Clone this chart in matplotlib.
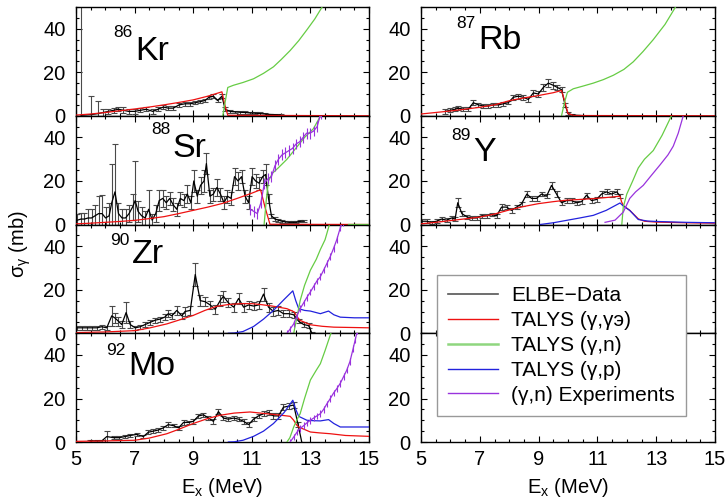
import numpy as np
import matplotlib
matplotlib.use("Agg")
import matplotlib.pyplot as plt
from matplotlib.lines import Line2D
from matplotlib.ticker import MultipleLocator, FixedLocator

plt.rcParams['font.family'] = ['Liberation Sans', 'DejaVu Sans']
plt.rcParams['mathtext.fontset'] = 'custom'
plt.rcParams['mathtext.rm'] = 'Liberation Sans'
plt.rcParams['mathtext.it'] = 'Liberation Sans:italic'
plt.rcParams['mathtext.bf'] = 'Liberation Sans:bold'

# ---------------- 86Kr ----------------
kr_elbe_e = [5.17, 5.50, 5.76, 5.93, 6.10, 6.28, 6.45, 6.62, 6.80, 7.00, 7.20, 7.40, 7.62, 7.80,
             7.98, 8.15, 8.32, 8.52, 8.72, 8.90, 9.07, 9.24, 9.40, 9.54, 9.69, 9.83, 9.98, 10.09,
             10.26, 10.43, 10.60, 10.77, 10.94, 11.11, 11.28, 11.45, 11.62, 11.80, 11.98]
kr_elbe_y = [0.2, 0.5, 1.0, 1.5, 2.0, 2.5, 3.0, 2.5, 2.0, 2.0, 2.5, 3.0, 2.0, 3.0, 4.0, 3.5, 3.5,
             5.0, 5.5, 5.5, 6.0, 6.5, 7.0, 8.5, 9.0, 7.0, 9.0, 3.0, 2.0, 1.8, 1.6, 1.5, 1.3, 1.2,
             1.0, 0.8, 0.6, 0.5, 0.4]
kr_elbe_err = [60, 8.8, 6.0, 1.5, 1.2, 1.2, 1.0, 1.3, 1.2, 1.0, 1.0, 1.0, 1.2, 1.0, 1.0, 1.0, 0.8,
               0.8, 0.8, 0.8, 0.8, 0.8, 0.8, 0.8, 1.0, 0.8, 0.8, 0.8, 0.6, 0.6, 0.6, 0.5, 0.5,
               0.5, 0.5, 0.4, 0.4, 0.4, 0.4]
kr_gg_e = [5.0, 5.5, 6.0, 6.5, 7.0, 7.5, 8.0, 8.5, 9.0, 9.5, 9.98, 10.08, 10.18, 15.0]
kr_gg_y = [0.3, 0.8, 1.5, 2.3, 3.1, 4.0, 5.0, 6.1, 7.3, 9.0, 11.0, 5.0, 0.2, 0.0]
kr_gn_e = [10.01, 10.1, 10.18, 10.37, 10.7, 11.06, 11.4, 11.74, 12.0, 12.31, 12.6, 12.88, 13.15, 13.4, 13.5]
kr_gn_y = [0.0, 7.0, 13.0, 14.0, 15.3, 17.0, 19.5, 22.5, 25.8, 30.0, 34.5, 39.5, 44.5, 50.0, 52.0]

# ---------------- 87Rb ----------------
rb_elbe_e = [5.82, 5.99, 6.16, 6.27, 6.44, 6.61, 6.78, 6.95, 7.12, 7.29, 7.46, 7.63, 7.80, 7.97,
             8.14, 8.31, 8.48, 8.65, 8.82, 8.99, 9.16, 9.33, 9.50, 9.64, 9.78, 9.90, 10.00,
             10.15, 10.30, 10.45]
rb_elbe_y = [2.0, 2.5, 3.0, 3.5, 3.0, 3.0, 6.0, 5.0, 4.5, 4.5, 5.0, 5.0, 5.5, 6.0, 8.5, 9.0, 8.5,
             7.5, 10.5, 10.0, 13.0, 15.0, 14.0, 13.0, 12.0, 5.0, 1.0, 0.4, 0.2, 0.1]
rb_elbe_err = [1.0, 1.0, 1.0, 1.0, 0.8, 0.8, 1.2, 1.0, 0.8, 0.8, 0.8, 0.8, 0.8, 0.8, 1.2, 1.2,
               1.2, 1.0, 1.5, 1.2, 1.5, 1.8, 1.5, 1.2, 1.2, 0.8, 0.5, 0.3, 0.2, 0.2]
rb_gg_e = [5.0, 5.5, 6.0, 6.5, 7.0, 7.5, 8.03, 8.5, 9.0, 9.5, 9.78, 9.88, 10.0, 10.2, 15.0]
rb_gg_y = [0.8, 1.5, 2.2, 3.0, 3.9, 5.0, 7.0, 8.2, 9.3, 10.6, 11.6, 7.0, 1.0, 0.1, 0.0]
rb_gn_e = [9.78, 9.88, 9.98, 10.18, 10.5, 10.86, 11.2, 11.54, 11.9, 12.22, 12.55, 12.9, 13.3, 13.64, 13.7]
rb_gn_y = [0.0, 6.0, 10.8, 12.4, 13.6, 15.0, 16.6, 18.6, 21.3, 24.8, 29.5, 35.0, 42.0, 49.6, 51.0]

# ---------------- 88Sr ----------------
sr_elbe_e = [5.05, 5.17, 5.29, 5.41, 5.53, 5.65, 5.77, 5.89, 6.01, 6.13, 6.22, 6.33, 6.45, 6.57,
             6.69, 6.81, 6.93, 7.02, 7.12, 7.24, 7.36, 7.48, 7.60, 7.72, 7.84, 7.96, 8.08, 8.20,
             8.32, 8.44, 8.56, 8.68, 8.80, 8.92, 9.02, 9.14, 9.25, 9.37, 9.45, 9.57, 9.69, 9.81,
             9.93, 10.05, 10.17, 10.29, 10.41, 10.53, 10.65, 10.77, 10.89, 11.01, 11.13, 11.25,
             11.37, 11.47, 11.57, 11.67, 11.79, 11.91, 12.03, 12.15, 12.27, 12.39, 12.51, 12.65, 12.77]
sr_elbe_y = [2.0, 2.5, 2.5, 3.0, 3.0, 4.0, 5.0, 5.0, 3.0, 4.0, 10.0, 15.0, 5.0, 3.0, 3.0, 5.0,
             8.0, 11.0, 6.0, 4.0, 3.0, 7.0, 2.0, 5.0, 11.0, 12.0, 10.0, 12.0, 9.0, 7.0, 12.0,
             11.0, 14.0, 10.0, 20.0, 13.0, 18.0, 20.0, 28.0, 13.0, 14.0, 17.0, 14.0, 10.0, 13.0,
             12.0, 22.0, 20.0, 22.0, 13.0, 10.0, 22.0, 20.0, 19.0, 22.0, 23.0, 12.0, 4.0, 2.5,
             2.0, 1.5, 1.2, 1.0, 1.0, 1.0, 1.5, 1.5]
sr_elbe_err = [3, 3, 3, 4, 4, 5, 8, 8.5, 5, 6, 18, 22, 5, 4, 4, 4, 6, 18, 5, 4, 3, 9, 3, 4, 5, 4,
               3, 3, 3, 3, 3, 3, 4, 3, 5, 3, 4, 5, 5, 3, 3, 4, 3, 3, 3, 3, 4, 4, 3, 3, 3, 4, 3,
               3, 3, 5, 2, 1, 0.8, 0.7, 0.6, 0.5, 0.5, 0.5, 0.5, 0.5, 0.5]
sr_gg_e = [5.0, 5.5, 6.0, 6.5, 7.0, 7.5, 8.0, 8.5, 9.0, 9.5, 10.0, 10.5, 11.0, 11.3, 11.45, 11.62, 15.0]
sr_gg_y = [0.3, 0.6, 1.0, 1.4, 1.9, 2.7, 3.6, 5.0, 6.5, 8.0, 9.7, 12.0, 14.4, 16.0, 8.0, 0.1, 0.0]
sr_gn_e = [11.42, 11.50, 11.57, 11.70, 11.90, 12.20, 12.50, 12.80, 13.10, 13.35, 13.45, np.nan, 14.3, 15.0]
sr_gn_y = [0.0, 12.0, 20.0, 23.5, 26.0, 30.0, 35.0, 40.0, 44.0, 50.0, 52.0, np.nan, 0.0, 0.0]
sr_exp_e = [10.95, 11.07, 11.19, 11.31, 11.43, 11.55, 11.67, 11.79, 11.91, 12.03, 12.15, 12.27,
            12.39, 12.51, 12.63, 12.75, 12.87, 12.99, 13.11, 13.23, 13.35]
sr_exp_y = [7, 6, 5, 10, 19, 21, 22, 27, 30, 32, 33, 34, 35, 37, 38, 40, 42, 42, 43, 45, 51]
sr_exp_err = [2.5] * 21

# ---------------- 89Y ----------------
y_elbe_e = [5.02, 5.19, 5.36, 5.53, 5.70, 5.87, 6.04, 6.16, 6.25, 6.39, 6.56, 6.72, 6.89, 7.06,
            7.23, 7.40, 7.57, 7.74, 7.91, 8.08, 8.25, 8.42, 8.60, 8.76, 8.93, 9.10, 9.27, 9.44,
            9.61, 9.78, 9.95, 10.12, 10.29, 10.46, 10.63, 10.80, 10.97, 11.14, 11.31, 11.48,
            11.66, 11.77]
y_elbe_y = [1.5, 1.5, 1.0, 1.5, 2.5, 2.0, 3.0, 2.5, 10.0, 5.0, 3.5, 3.0, 3.0, 4.0, 4.0, 4.5,
            4.0, 8.0, 8.0, 6.5, 8.0, 9.5, 14.0, 12.0, 12.0, 14.0, 13.0, 18.0, 14.0, 10.0, 11.0,
            11.0, 10.0, 10.5, 13.5, 11.0, 11.5, 14.0, 15.0, 14.0, 15.0, 13.0]
y_elbe_err = [0.8, 0.8, 0.8, 0.8, 0.8, 0.8, 0.8, 0.8, 2.0, 1.0, 0.8, 0.8, 0.8, 0.8, 0.8, 0.8,
              0.8, 1.2, 1.0, 1.0, 1.0, 1.0, 1.2, 1.0, 1.0, 1.0, 1.0, 1.5, 1.2, 1.0, 1.0, 1.0,
              1.0, 1.0, 1.2, 1.0, 1.0, 1.2, 1.2, 1.2, 1.2, 1.0]
y_gg_e = [5.0, 5.5, 6.0, 6.5, 7.0, 7.5, 8.03, 8.5, 9.0, 9.5, 9.95, 10.4, 10.86, 11.3, 11.77,
          11.82, 11.88, 12.0, 12.1, 12.25, 12.39, 12.6, 13.0, 14.0, 15.0]
y_gg_y = [0.3, 1.0, 1.8, 2.6, 3.4, 4.8, 6.8, 8.3, 9.6, 10.5, 11.2, 11.5, 11.9, 12.4, 13.0, 10.5,
          8.8, 7.5, 6.5, 4.5, 2.6, 1.5, 1.1, 0.8, 0.6]
y_gp_e = [9.05, 9.5, 9.95, 10.4, 10.86, 11.3, 11.77, 11.88, 12.1, 12.39, 12.7, 13.0, 14.0, 15.0]
y_gp_y = [0.0, 0.8, 1.9, 3.0, 4.2, 6.5, 9.9, 8.5, 6.5, 2.3, 1.6, 1.4, 1.0, 0.8]
y_gn_e = [11.83, 11.88, 12.0, 12.2, 12.39, 12.6, 12.9, 13.2, 13.52, 13.6]
y_gn_y = [0.0, 8.0, 14.0, 20.0, 26.0, 30.0, 34.0, 41.0, 50.0, 52.0]
y_exp_e = [11.26, 11.6, 11.88, 12.1, 12.3, 12.56, 12.8, 13.13, 13.4, 13.58, 13.75, 13.92, 14.0]
y_exp_y = [1.0, 2.0, 5.7, 12.0, 15.0, 18.0, 22.0, 27.4, 32.0, 36.0, 42.0, 50.0, 52.0]

# ---------------- 90Zr ----------------
zr_elbe_e = [5.05, 5.20, 5.36, 5.54, 5.71, 5.88, 6.05, 6.22, 6.33, 6.45, 6.56, 6.71, 6.85, 7.02,
             7.19, 7.36, 7.53, 7.70, 7.87, 8.04, 8.15, 8.27, 8.44, 8.61, 8.72, 8.90, 9.07, 9.24,
             9.41, 9.58, 9.75, 9.92, 10.03, 10.20, 10.38, 10.55, 10.72, 10.89, 11.06, 11.23,
             11.40, 11.57, 11.74, 11.91, 12.08, 12.26, 12.43, 12.60, 12.77, 12.94, 13.05]
zr_elbe_y = [2.5, 2.5, 2.5, 2.5, 2.5, 3.0, 2.5, 8.0, 7.0, 5.5, 4.0, 9.5, 4.0, 2.5, 3.0, 4.0, 5.0,
             6.0, 6.5, 7.5, 9.0, 8.0, 10.5, 8.0, 10.0, 10.5, 27.0, 15.0, 14.5, 13.0, 11.0, 15.0,
             17.0, 14.0, 12.0, 16.0, 12.0, 13.0, 12.5, 13.0, 18.0, 12.0, 10.0, 10.5, 9.0, 9.0,
             8.5, 5.5, 4.0, 3.5, 0.0]
zr_elbe_err = [1.0, 1.0, 1.0, 1.0, 1.0, 1.0, 1.0, 4.5, 2.5, 2.0, 1.5, 5.0, 1.5, 1.0, 1.0, 1.0,
               1.0, 1.2, 1.2, 1.5, 1.5, 1.5, 2.0, 1.5, 2.0, 2.0, 5.5, 2.5, 2.0, 2.0, 2.0, 2.5,
               2.5, 2.0, 2.0, 2.5, 2.0, 2.0, 2.0, 2.0, 3.0, 2.0, 2.0, 2.0, 1.5, 1.5, 1.5, 1.0,
               1.0, 1.0, 0.5]
zr_gg_e = [5.0, 6.0, 7.0, 7.5, 8.1, 8.5, 9.0, 9.4, 9.8, 10.2, 10.6, 11.0, 11.3, 11.7, 12.2,
           12.45, 12.55, 12.65, 13.0, 13.4, 13.8, 15.0]
zr_gg_y = [0.3, 0.6, 1.2, 2.4, 4.3, 6.0, 8.2, 10.5, 12.4, 13.2, 13.6, 13.6, 13.2, 12.5, 11.3,
           9.8, 7.5, 5.9, 3.9, 3.2, 2.8, 2.5]
zr_gp_e = [10.2, 10.4, 10.7, 11.06, 11.4, 11.74, 12.1, 12.4, 12.5, 12.6, 12.8, 13.0, 13.34,
           13.62, 13.8, 14.02, 14.5, 15.0]
zr_gp_y = [0.0, 0.1, 0.8, 3.1, 6.5, 10.5, 15.5, 19.5, 15.0, 11.3, 10.5, 10.2, 9.0, 10.2, 8.5,
           7.4, 7.1, 7.1]
zr_gn_e = [12.43, 12.55, 12.65, 12.8, 13.0, 13.2, 13.34, 13.5, 13.65, 13.7]
zr_gn_y = [0.0, 8.0, 15.0, 22.0, 29.0, 34.0, 38.5, 43.0, 50.0, 52.0]
zr_exp_e = [12.2, 12.31, 12.43, 12.54, 12.65, 12.77, 12.88, 13.0, 13.11, 13.22, 13.34, 13.45,
            13.56, 13.68, 13.79, 13.9, 14.02, 14.1]
zr_exp_y = [0.0, 2.0, 4.3, 8.0, 11.3, 14.0, 16.5, 19.0, 21.5, 24.0, 26.0, 29.0, 32.0, 35.3,
            39.0, 43.0, 48.5, 51.0]
zr_exp_err = [1.5] * 18

# ---------------- 92Mo ----------------
mo_elbe_e = [5.48, 5.70, 5.88, 6.05, 6.28, 6.48, 6.67, 6.85, 7.07, 7.30, 7.47, 7.64, 7.81, 7.98,
             8.15, 8.33, 8.50, 8.67, 8.84, 9.01, 9.18, 9.35, 9.52, 9.69, 9.86, 10.03, 10.20,
             10.38, 10.55, 10.72, 10.89, 11.06, 11.23, 11.40, 11.57, 11.74, 11.91, 12.08, 12.26,
             12.43, 12.58, 12.72]
mo_elbe_y = [0.5, 0.5, 0.5, 2.5, 2.0, 2.0, 2.5, 3.0, 3.5, 2.5, 4.5, 5.0, 5.5, 6.5, 8.0, 7.5, 6.5,
             9.0, 9.0, 9.5, 12.0, 12.5, 11.0, 9.5, 14.0, 11.0, 10.5, 11.0, 10.5, 9.5, 8.0, 10.5,
             12.0, 13.0, 13.5, 12.0, 12.0, 16.0, 16.5, 17.0, 8.0, -1.0]
mo_elbe_err = [0.5, 0.5, 0.5, 2.5, 0.8, 0.8, 0.8, 0.8, 0.8, 0.8, 0.8, 0.8, 0.8, 0.8, 1.0, 0.8,
               0.8, 1.0, 0.8, 1.0, 1.0, 1.0, 1.0, 1.0, 1.2, 1.0, 1.0, 1.0, 1.0, 1.0, 1.0, 1.0,
               1.0, 1.2, 1.2, 1.2, 1.2, 1.5, 1.5, 1.5, 1.0, 0.5]
mo_gg_e = [5.0, 6.0, 7.0, 7.5, 8.1, 8.5, 9.0, 9.5, 9.92, 10.4, 10.94, 11.5, 12.0, 12.31, 12.43,
           12.52, 12.6, 13.0, 13.3, 13.68, 14.2, 15.0]
mo_gg_y = [0.3, 0.5, 0.8, 1.8, 3.8, 5.8, 8.5, 10.8, 12.3, 13.3, 13.8, 13.0, 12.3, 11.8, 10.0,
           8.0, 6.9, 4.6, 4.2, 3.8, 3.0, 2.6]
mo_gp_e = [10.2, 10.4, 10.7, 11.06, 11.4, 11.74, 12.1, 12.4, 12.5, 12.6, 12.88, 13.1, 13.34,
           13.62, 13.8, 14.02, 15.0]
mo_gp_y = [0.0, 0.1, 0.8, 2.6, 5.0, 8.5, 13.5, 19.2, 15.0, 11.8, 10.0, 9.8, 9.7, 10.3, 8.5,
           6.9, 6.9]
mo_gn_e = [12.2, 12.3, 12.43, 12.55, 12.65, 12.8, 13.0, 13.2, 13.34, 13.5, 13.7, 13.75]
mo_gn_y = [0.0, 2.0, 6.9, 10.5, 13.0, 20.0, 28.5, 33.0, 36.0, 42.0, 50.0, 52.0]
mo_exp_e = [12.31, 12.43, 12.54, 12.65, 12.77, 12.88, 13.0, 13.11, 13.22, 13.34, 13.45, 13.56,
            13.68, 13.79, 13.9, 14.02, 14.13, 14.24, 14.35, 14.46, 14.53, 14.6]
mo_exp_y = [0.0, 2.3, 4.5, 6.2, 7.5, 8.8, 10.0, 11.0, 12.0, 13.0, 15.0, 17.5, 20.0, 22.5, 24.5,
            27.0, 30.0, 33.0, 37.0, 43.0, 47.0, 51.0]
mo_exp_err = [1.5] * 22

legend_labels = ["ELBE\u2212Data", "TALYS (\u03b3,\u03b3\u044d)", "TALYS (\u03b3,n)",
                 "TALYS (\u03b3,p)", "(\u03b3,n) Experiments"]

C_ELBE = 'black'
C_ELBE_ERR = '#4a4a4a'
C_GG = '#ee1111'
C_GN = '#66cc44'
C_GP = '#2222dd'
C_EXP = '#9933dd'

W, H = 728, 501
fig = plt.figure(figsize=(W / 100, H / 100), dpi=100)

col_left = [76, 421]
col_width = [293, 294]
row_top = 7.0
row_h = 108.75


def make_axes(col, row):
    x0 = col_left[col] / W
    w = col_width[col] / W
    top = row_top + row * row_h
    y0 = (H - (top + row_h)) / H
    ax = fig.add_axes([x0, y0, w, row_h / H])
    ax.set_xlim(5, 15)
    ax.set_ylim(0, 50)
    ax.xaxis.set_major_locator(FixedLocator([5, 7, 9, 11, 13, 15]))
    ax.xaxis.set_minor_locator(MultipleLocator(0.5))
    ax.yaxis.set_major_locator(FixedLocator([0, 20, 40]))
    ax.yaxis.set_minor_locator(MultipleLocator(5))
    ax.tick_params(which='both', direction='in', top=True, right=True, width=0.8,
                   labelsize=14.5, colors='black')
    ax.tick_params(which='major', length=4)
    ax.tick_params(which='minor', length=2.3)
    ax.tick_params(axis='y', pad=7.5)
    ax.tick_params(axis='x', pad=6.0)
    if row != 3:
        ax.tick_params(axis='x', labelbottom=False)
    for s in ax.spines.values():
        s.set_linewidth(1.0)
    return ax


def draw_elbe(ax, e, y, err):
    ax.errorbar(e, y, yerr=err, fmt='none', ecolor=C_ELBE_ERR, elinewidth=0.8,
                capsize=2.2, capthick=0.8, zorder=2)
    ax.plot(e, y, color=C_ELBE, lw=0.9, zorder=3)


def draw_curve(ax, e, y, color, lw=0.9, z=4):
    ax.plot(e, y, color=color, lw=lw, zorder=z)


def draw_exp(ax, e, y, err=None):
    ax.plot(e, y, color=C_EXP, lw=0.9, zorder=5)
    if err is not None:
        ax.errorbar(e, y, yerr=err, fmt='none', ecolor=C_EXP, elinewidth=0.8, capsize=0, zorder=5)


def nucleus_label(ax, mass, sym, x, y_base, y_sup):
    ax.text(x, y_base, sym, fontsize=24.5, ha='left', va='baseline', zorder=6)
    ax.text(x - 0.07, y_sup, mass, fontsize=12.5, ha='right', va='baseline', zorder=6)


# 86Kr
ax = make_axes(0, 0)
draw_elbe(ax, kr_elbe_e, kr_elbe_y, kr_elbe_err)
draw_curve(ax, kr_gg_e, kr_gg_y, C_GG)
draw_curve(ax, kr_gn_e, kr_gn_y, C_GN)
nucleus_label(ax, '86', 'Kr', 7.01, 25.7, 36.2)

# 87Rb
ax = make_axes(1, 0)
draw_elbe(ax, rb_elbe_e, rb_elbe_y, rb_elbe_err)
draw_curve(ax, rb_gg_e, rb_gg_y, C_GG)
draw_curve(ax, rb_gn_e, rb_gn_y, C_GN)
nucleus_label(ax, '87', 'Rb', 6.94, 30.7, 40.4)

# 88Sr
ax = make_axes(0, 1)
draw_elbe(ax, sr_elbe_e, sr_elbe_y, sr_elbe_err)
draw_curve(ax, sr_gg_e, sr_gg_y, C_GG)
draw_curve(ax, sr_gn_e, sr_gn_y, C_GN)
draw_exp(ax, sr_exp_e, sr_exp_y, sr_exp_err)
nucleus_label(ax, '88', 'Sr', 8.28, 31.2, 41.7)

# 89Y
ax = make_axes(1, 1)
draw_elbe(ax, y_elbe_e, y_elbe_y, y_elbe_err)
draw_curve(ax, y_gg_e, y_gg_y, C_GG)
draw_curve(ax, y_gp_e, y_gp_y, C_GP)
draw_curve(ax, y_gn_e, y_gn_y, C_GN)
draw_exp(ax, y_exp_e, y_exp_y)
nucleus_label(ax, '89', 'Y', 6.77, 29.4, 39.0)

# 90Zr
ax = make_axes(0, 2)
draw_elbe(ax, zr_elbe_e, zr_elbe_y, zr_elbe_err)
draw_curve(ax, zr_gg_e, zr_gg_y, C_GG)
draw_curve(ax, zr_gp_e, zr_gp_y, C_GP)
draw_curve(ax, zr_gn_e, zr_gn_y, C_GN)
draw_exp(ax, zr_exp_e, zr_exp_y, zr_exp_err)
nucleus_label(ax, '90', 'Zr', 6.91, 32.1, 40.4)

# empty right panel
make_axes(1, 2)

# 92Mo
ax = make_axes(0, 3)
draw_elbe(ax, mo_elbe_e, mo_elbe_y, mo_elbe_err)
draw_curve(ax, mo_gg_e, mo_gg_y, C_GG)
draw_curve(ax, mo_gp_e, mo_gp_y, C_GP)
draw_curve(ax, mo_gn_e, mo_gn_y, C_GN)
draw_exp(ax, mo_exp_e, mo_exp_y, mo_exp_err)
nucleus_label(ax, '92', 'Mo', 6.77, 30.7, 39.9)

# empty right panel
make_axes(1, 3)

# axis titles
fig.text(20 / W, 1 - 244 / H, r'$\mathregular{\sigma_\gamma}$ (mb)', rotation=90,
         ha='center', va='center', fontsize=14.5)
for cx in (222.5 / W, 568 / W):
    fig.text(cx, 1 - 493 / H, r'E$\mathregular{_x}$ (MeV)', ha='center', va='baseline',
             fontsize=14.5)

# legend
handles = [Line2D([], [], color='#555555', lw=1.2),
           Line2D([], [], color=C_GG, lw=1.0),
           Line2D([], [], color='#8fd67f', lw=1.8),
           Line2D([], [], color=C_GP, lw=1.0),
           Line2D([], [], color=C_EXP, lw=1.0)]
leg = fig.legend(handles, legend_labels, loc='upper left',
                 bbox_to_anchor=(437 / W, 1 - 275 / H), bbox_transform=fig.transFigure,
                 borderaxespad=0, frameon=True, fancybox=False, framealpha=1,
                 edgecolor='#999999', fontsize=15, handlelength=2.4, handletextpad=0.6,
                 labelspacing=0.28, borderpad=0.55)
leg.get_frame().set_linewidth(1.0)

fig.savefig('out.png', dpi=100)
